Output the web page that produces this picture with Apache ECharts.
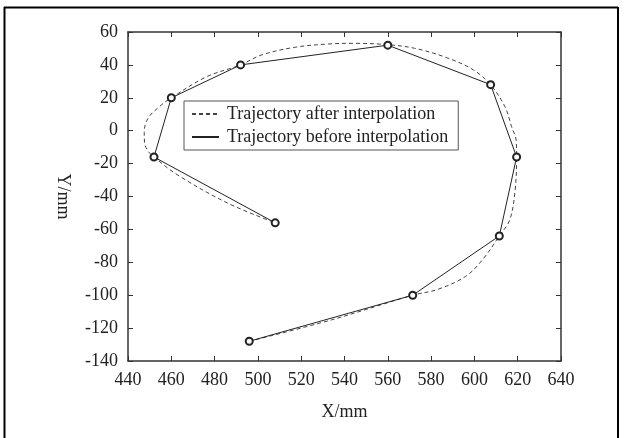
<!DOCTYPE html>
<html>
<head>
<meta charset="utf-8">
<script src="https://cdn.jsdelivr.net/npm/echarts@6/dist/echarts.min.js"></script>
<style>
html,body{margin:0;padding:0;background:#fff;}
#chart{width:627px;height:438px;}
</style>
</head>
<body>
<div id="chart"></div>
<script>
// Waypoints (trajectory before interpolation), X/mm and Y/mm
const beforeX = [496, 571.5, 611.5, 619.5, 607.5, 560, 492, 460, 452, 508];
const beforeY = [-128, -100, -64, -16, 28, 52, 40, 20, -16, -56];

// Interpolated trajectory, points
const afterX = [496, 534, 571.5, 583, 596, 604, 611.5, 616.4, 618.8, 619.5, 619.3, 617.2, 614.1, 607.5, 599.5, 587, 572.4, 559.8, 544.7, 532.4, 517, 501.6, 492, 476.3, 460, 455.4, 449.2, 447.5, 447.7, 449.5, 452, 463, 486, 508];
const afterY = [-128, -115, -100, -96.5, -88.5, -78, -64, -54, -36, -16, -6, 2.4, 14.6, 27.8, 37, 44.5, 50.1, 52.3, 53.1, 52.7, 50.7, 46, 40, 32.8, 20, 15.6, 7.5, -1, -7.7, -12.8, -16, -27, -44, -56];

// Axis ticks
const xTicks = [440, 460, 480, 500, 520, 540, 560, 580, 600, 620, 640];
const yTicks = [-140, -120, -100, -80, -60, -40, -20, 0, 20, 40, 60];

const seriesNames = ['Trajectory after interpolation', 'Trajectory before interpolation'];

const FONT = '"Liberation Serif", "Times New Roman", serif';
const INK = '#222';
const FS = 18;

const beforeData = beforeX.map((x, i) => [x, beforeY[i]]);
const afterData = afterX.map((x, i) => [x, afterY[i]]);

const axisCommon = {
  type: 'value',
  axisLine: { show: true, onZero: false, lineStyle: { color: '#333', width: 1.5 } },
  axisTick: { show: true, inside: true, length: 5, lineStyle: { color: '#333', width: 1 } },
  splitLine: { show: false }
};

const chart = echarts.init(document.getElementById('chart'), null, { renderer: 'canvas' });
chart.setOption({
  animation: false,
  backgroundColor: '#fff',
  grid: { left: 128, right: 66, top: 32, bottom: 77 },
  xAxis: [
    Object.assign({}, axisCommon, {
      position: 'bottom',
      min: xTicks[0], max: xTicks[xTicks.length - 1], interval: 20,
      name: 'X/mm', nameLocation: 'middle', nameGap: 42,
      nameTextStyle: { fontFamily: FONT, fontSize: FS, color: INK },
      axisLabel: { fontFamily: FONT, fontSize: FS, color: INK, margin: 10 }
    }),
    Object.assign({}, axisCommon, {
      position: 'top',
      min: xTicks[0], max: xTicks[xTicks.length - 1], interval: 20,
      axisLabel: { show: false }
    })
  ],
  yAxis: [
    Object.assign({}, axisCommon, {
      position: 'left',
      min: yTicks[0], max: yTicks[yTicks.length - 1], interval: 20,
      name: 'Y/mm', nameLocation: 'middle', nameGap: 56, nameRotate: -90,
      nameTextStyle: { fontFamily: FONT, fontSize: FS, color: INK },
      axisLabel: { fontFamily: FONT, fontSize: FS, color: INK, margin: 10 }
    }),
    Object.assign({}, axisCommon, {
      position: 'right',
      min: yTicks[0], max: yTicks[yTicks.length - 1], interval: 20,
      axisLabel: { show: false }
    })
  ],
  legend: {
    left: 184, top: 101,
    orient: 'vertical',
    itemWidth: 27, itemHeight: 14, itemGap: 5,
    padding: [4, 10, 4, 7],
    borderColor: '#555', borderWidth: 1,
    backgroundColor: '#fff',
    itemStyle: { opacity: 0 },
    textStyle: { fontFamily: FONT, fontSize: FS, color: INK, padding: [0, 0, 0, 3] },
    data: seriesNames
  },
  series: [
    {
      name: seriesNames[0],
      type: 'line',
      data: afterData,
      smooth: 0.35,
      symbol: 'none',
      lineStyle: { color: '#444', width: 1, type: [4, 3] },
      itemStyle: { color: '#444' },
      z: 2
    },
    {
      name: seriesNames[1],
      type: 'line',
      data: beforeData,
      symbol: 'emptyCircle',
      symbolSize: 7,
      lineStyle: { color: '#222', width: 1 },
      itemStyle: { color: '#222', borderWidth: 0.8 },
      z: 3
    }
  ],
  graphic: [
    { type: 'line', shape: { x1: 4.5, y1: 7, x2: 4.5, y2: 438 }, style: { stroke: '#000', lineWidth: 2 } },
    { type: 'line', shape: { x1: 4, y1: 7.5, x2: 618, y2: 7.5 }, style: { stroke: '#000', lineWidth: 2 } },
    { type: 'line', shape: { x1: 618, y1: 7, x2: 618, y2: 438 }, style: { stroke: '#000', lineWidth: 2 } }
  ]
});
</script>
</body>
</html>
